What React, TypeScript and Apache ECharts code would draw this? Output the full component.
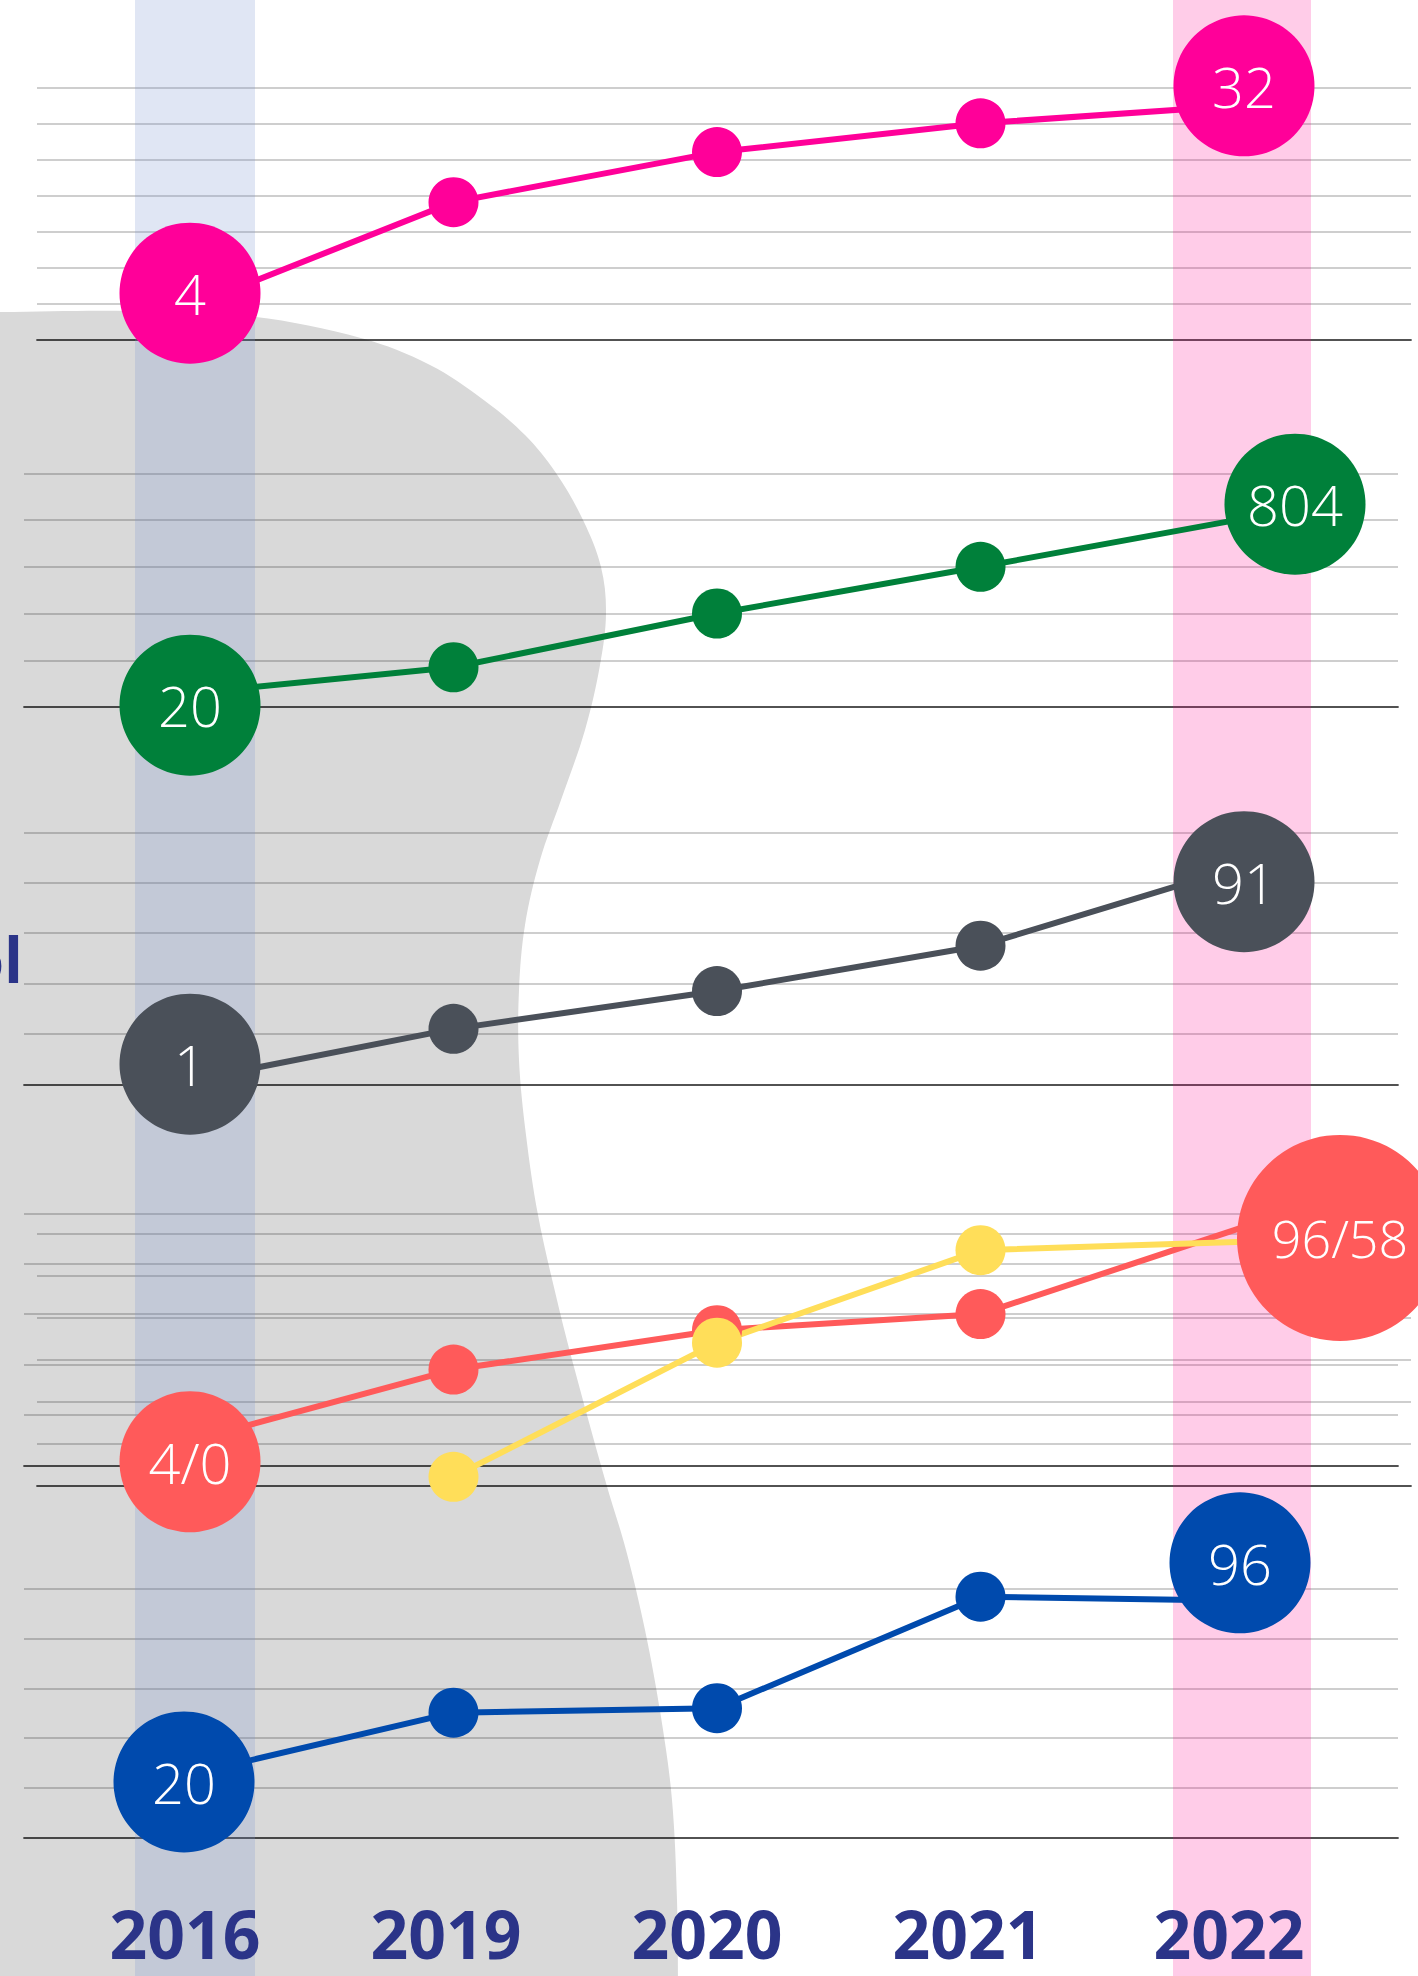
import React, { useEffect, useRef } from 'react';
import * as echarts from 'echarts';

// ---------- DATA ----------
const years = ['2016', '2019', '2020', '2021', '2022'];

// values are in gridline units of each panel (0 = dark baseline)
const pinkLine = [0.91, 3.81, 5.2, 6.0, 6.5];
const pinkBubble = [1.28, null, null, null, 7.04];
const pinkBubbleLabels = ['4', '', '', '', '32'];

const greenLine = [0.29, 0.85, 2.0, 3.0, 4.03];
const greenBubble = [0.04, null, null, null, 4.34];
const greenBubbleLabels = ['20', '', '', '', '804'];

const grayLine = [0.07, 1.1, 1.85, 2.75, 4.34];
const grayBubble = [0.4, null, null, null, 4.02];
const grayBubbleLabels = ['1', '', '', '', '91'];

const redLine = [0.48, 1.9, 2.68, 3.0, 4.73];
const redBubble = [0.07, null, null, null, 4.51];
const redBubbleLabels = ['4/0', '', '', '', '96/58'];

const yellowLine = [null, 0.21, 3.4, 5.6, 5.8];

const blueLine = [1.27, 2.51, 2.6, 4.84, 4.76];
const blueBubble = [1.12, null, null, null, 5.52];
const blueBubbleLabels = ['20', '', '', '', '96'];

const sideLabel = 'ol';

// ---------- LAYOUT / STYLE ----------
const W = 1418;
const H = 1976;
const X_FIRST = 190;
const X_LAST = 1244;
const unit = (X_LAST - X_FIRST) / (years.length - 1);
const LABEL_FIRST = 185;
const LABEL_LAST = 1229;
const labelUnit = (LABEL_LAST - LABEL_FIRST) / (years.length - 1);

type Panel = {
  color: string;
  line: (number | null)[];
  bubble?: (number | null)[];
  labels?: string[];
  left: number;
  right: number;
  top: number;
  bottom: number;
  max: number;
  bubbleOffset?: Record<number, number[]>;
  bubbleSize?: Record<number, number>;
  bubbleFont?: Record<number, number>;
  hideMarker?: number[];
};

const panels: Panel[] = [
  { color: '#ff0099', line: pinkLine, bubble: pinkBubble, labels: pinkBubbleLabels, left: 37, right: 1411, top: 87.3, bottom: 339.3, max: 7 },
  { color: '#00803a', line: greenLine, bubble: greenBubble, labels: greenBubbleLabels, left: 24, right: 1398, top: 473.3, bottom: 707, max: 5, bubbleOffset: { 4: [51, 0] } },
  { color: '#4a5059', line: grayLine, bubble: grayBubble, labels: grayBubbleLabels, left: 24, right: 1398, top: 832.3, bottom: 1084.3, max: 5 },
  { color: '#ff5a5a', line: redLine, bubble: redBubble, labels: redBubbleLabels, left: 24, right: 1398, top: 1213.3, bottom: 1465.3, max: 5, bubbleOffset: { 4: [96, 0] }, bubbleSize: { 4: 206 }, bubbleFont: { 4: 52 } },
  { color: '#ffde59', line: yellowLine, left: 37, right: 1411, top: 1233.3, bottom: 1485.7, max: 6, hideMarker: [4] },
  { color: '#004aad', line: blueLine, bubble: blueBubble, labels: blueBubbleLabels, left: 24, right: 1398, top: 1588.7, bottom: 1837.7, max: 5, bubbleOffset: { 0: [-6, 0], 4: [-4, 0] } },
];

const blobPoints = [
  [-80, 312.5], [0, 312], [130, 311], [253, 316.7], [361.7, 338.3],
  [430, 365], [483.7, 400], [525, 435], [556, 473], [583, 520],
  [601, 567], [606, 613], [600, 665], [585, 730], [561, 800],
  [540, 860], [525, 925], [519, 990], [519, 1060], [526, 1135],
  [538, 1215], [557, 1300], [574, 1367], [606, 1483], [626, 1550],
  [645, 1630], [661, 1717], [672, 1800], [677, 1900], [678, 2000], [678, 2100], [-80, 2100],
];

const FONT = '"Open Sans", "Noto Sans", sans-serif';
const NAVY = '#2b3488';

function buildOption() {
  const grid: any[] = panels.map((p) => ({
    left: p.left,
    top: p.top,
    width: p.right - p.left,
    height: p.bottom - p.top,
    containLabel: false,
    outerBoundsMode: 'none',
  }));
  const blue = panels[panels.length - 1];
  grid.push({
    left: LABEL_FIRST - labelUnit / 2,
    width: labelUnit * years.length,
    top: blue.bottom - 1,
    height: 1,
    containLabel: false,
    outerBoundsMode: 'none',
  });

  const xAxis: any[] = panels.map((p, i) => ({
    type: 'value',
    gridIndex: i,
    min: -(X_FIRST - p.left) / unit,
    max: years.length - 1 + (p.right - X_LAST) / unit,
    axisLine: { show: true, onZero: true, lineStyle: { color: 'rgba(0,0,0,0.6)', width: 2 } },
    axisTick: { show: false },
    axisLabel: { show: false },
    splitLine: { show: false },
    z: 2,
  }));
  xAxis.push({
    type: 'category',
    gridIndex: panels.length,
    data: years,
    boundaryGap: true,
    axisLine: { show: false },
    axisTick: { show: false },
    splitLine: { show: false },
    axisLabel: {
      show: true,
      interval: 0,
      margin: 95,
      verticalAlign: 'middle',
      fontSize: 66,
      lineHeight: 56,
      fontWeight: 'bold',
      fontFamily: FONT,
      color: NAVY,
    },
    z: 10,
  });

  const yAxis: any[] = panels.map((p, i) => ({
    type: 'value',
    gridIndex: i,
    min: 0,
    max: p.max,
    interval: 1,
    axisLine: { show: false },
    axisTick: { show: false },
    axisLabel: { show: false },
    splitLine: { show: true, lineStyle: { color: 'rgba(0,0,0,0.26)', width: 1.5 } },
    z: 2,
  }));
  yAxis.push({ type: 'value', gridIndex: panels.length, show: false });

  const lineSeries = (p: Panel, i: number) => ({
    type: 'line',
    xAxisIndex: i,
    yAxisIndex: i,
    z: 5,
    clip: false,
    silent: true,
    symbol: 'circle',
    symbolSize: 50,
    lineStyle: { color: p.color, width: 6 },
    itemStyle: { color: p.color },
    data: p.line
      .map((v, j) => {
        if (v == null) return null;
        const hidden = (p.bubble && p.bubble[j] != null) || (p.hideMarker || []).includes(j);
        return { value: [j, v], symbol: hidden ? 'none' : 'circle' };
      })
      .filter((d) => d != null),
  });

  const bubbleSeries = (p: Panel, i: number) => ({
    type: 'scatter',
    xAxisIndex: i,
    yAxisIndex: i,
    z: 6,
    clip: false,
    silent: true,
    itemStyle: { color: p.color, opacity: 1 },
    label: {
      show: true,
      position: 'inside',
      color: '#ffffff',
      fontSize: 56,
      fontWeight: 300,
      fontFamily: FONT,
    },
    data: (p.bubble || [])
      .map((v, j) => {
        if (v == null) return null;
        return {
          value: [j, v],
          symbolSize: (p.bubbleSize && p.bubbleSize[j]) || 141,
          symbolOffset: (p.bubbleOffset && p.bubbleOffset[j]) || [0, 0],
          label: {
            formatter: (p.labels || [])[j],
            fontSize: (p.bubbleFont && p.bubbleFont[j]) || 56,
          },
        };
      })
      .filter((d) => d != null),
  });

  const series: any[] = [
    lineSeries(panels[0], 0), bubbleSeries(panels[0], 0),
    lineSeries(panels[1], 1), bubbleSeries(panels[1], 1),
    lineSeries(panels[2], 2), bubbleSeries(panels[2], 2),
    lineSeries(panels[3], 3),
    lineSeries(panels[4], 4),
    bubbleSeries(panels[3], 3),
    lineSeries(panels[5], 5), bubbleSeries(panels[5], 5),
  ];

  const graphic: any[] = [
    {
      type: 'polygon',
      silent: true,
      z: 1,
      shape: { points: blobPoints, smooth: 0.35 },
      style: { fill: '#d9d9d9' },
    },
    {
      type: 'rect',
      silent: true,
      z: 3,
      shape: { x: 135, y: 0, width: 120, height: H },
      style: { fill: 'rgba(126,151,209,0.24)' },
    },
    {
      type: 'rect',
      silent: true,
      z: 3,
      shape: { x: 1173, y: 0, width: 138, height: H },
      style: { fill: 'rgba(255,0,140,0.2)' },
    },
    {
      type: 'text',
      silent: true,
      z: 10,
      x: 23,
      y: 959,
      style: {
        text: sideLabel,
        align: 'right',
        verticalAlign: 'middle',
        fontSize: 62,
        fontWeight: 'bold',
        fontFamily: FONT,
        fill: NAVY,
      },
    },
  ];

  return {
    animation: false,
    backgroundColor: '#ffffff',
    grid,
    xAxis,
    yAxis,
    series,
    graphic,
  };
}

export default function App() {
  const ref = useRef<HTMLDivElement>(null);
  useEffect(() => {
    if (!ref.current) return;
    const chart = echarts.init(ref.current, null, { renderer: 'svg' });
    chart.setOption(buildOption() as any);
    return () => {
      chart.dispose();
    };
  }, []);
  return (
    <div
      ref={ref}
      style={{ position: 'absolute', left: 0, top: 0, width: W, height: H, overflow: 'hidden' }}
    />
  );
}
